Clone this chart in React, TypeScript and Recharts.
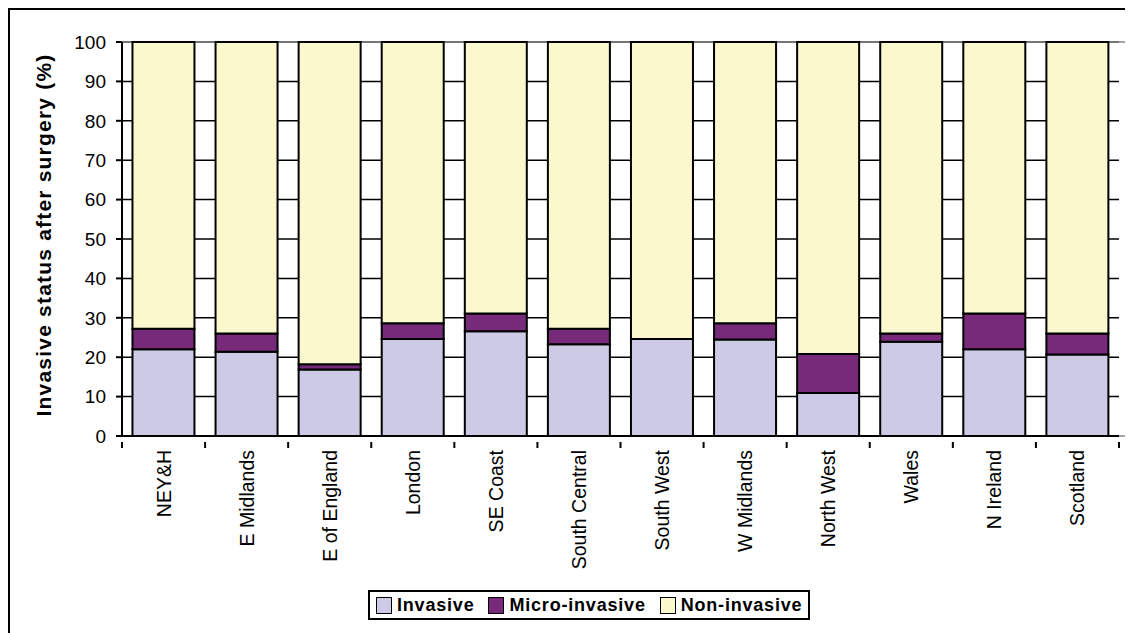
import { Bar, BarChart, CartesianGrid, Legend, ReferenceArea, XAxis, YAxis } from 'recharts';

const regions = [
    'NEY&H', 'E Midlands', 'E of England', 'London', 'SE Coast', 'South Central',
    'South West', 'W Midlands', 'North West', 'Wales', 'N Ireland', 'Scotland'
];

const invasive = [22.0, 21.4, 16.9, 24.6, 26.6, 23.3, 24.6, 24.5, 10.9, 23.9, 22.0, 20.7];
const microInvasive = [5.2, 4.6, 1.3, 4.0, 4.5, 3.9, 0, 4.1, 9.9, 2.1, 9.1, 5.3];
const nonInvasive = [72.8, 74.0, 81.8, 71.4, 68.9, 72.8, 75.4, 71.4, 79.2, 74.0, 68.9, 74.0];

const yTicks = [0, 10, 20, 30, 40, 50, 60, 70, 80, 90, 100];

const series = [
    { key: 'invasive', name: 'Invasive', color: '#CCCAE4' },
    { key: 'micro', name: 'Micro-invasive', color: '#77297A' },
    { key: 'non', name: 'Non-invasive', color: '#FBF8CD' },
];

const data = regions.map((name, i) => ({
    name,
    invasive: invasive[i],
    micro: microInvasive[i],
    non: nonInvasive[i],
}));

const font = '"Liberation Sans", Arial, sans-serif';

// label plus tick marks on the category boundaries (half a band either side)
function RegionTick(props: any) {
    const { x, y, payload, index, visibleTicksCount } = props;
    const half = payload.offset || 0;
    const axisY = y - 2;
    const ty = y + 6;
    return (
        <g>
            <line x1={x - half} y1={axisY} x2={x - half} y2={axisY + 6} stroke="#000" strokeWidth={2} />
            {index === visibleTicksCount - 1 && (
                <line x1={x + half} y1={axisY} x2={x + half} y2={axisY + 6} stroke="#000" strokeWidth={2} />
            )}
            <text
                x={x}
                y={ty}
                transform={`rotate(-90, ${x}, ${ty})`}
                textAnchor="end"
                dominantBaseline="central"
                fontSize={19.5}
                fontFamily={font}
                fill="#000"
            >
                {payload.value}
            </text>
        </g>
    );
}

function LegendBox() {
    return (
        <div style={{
            display: 'inline-flex', alignItems: 'center', gap: 14, boxSizing: 'border-box', height: 30,
            border: '2px solid #000', padding: '0 6px 0 6px', background: '#fff',
            fontFamily: font, fontWeight: 'bold', fontSize: 18,
        }}>
            {series.map(s => (
                <span key={s.key} style={{ display: 'inline-flex', alignItems: 'center', gap: 5 }}>
                    <span style={{ width: 14, height: 15, background: s.color, border: '1.5px solid #000', display: 'inline-block' }} />
                    <span style={{ letterSpacing: 0.8 }}>{s.name}</span>
                </span>
            ))}
        </div>
    );
}

export default function App() {
    return (
        <div style={{ width: 1116, height: 640, border: '3px solid #000', marginLeft: -1, marginTop: -1, background: '#fff' }}>
            <BarChart
                width={1116}
                height={640}
                data={data}
                barCategoryGap="12.6%"
                margin={{ top: 32, right: 7, bottom: 0, left: 0 }}
            >
                <CartesianGrid vertical={false} stroke="#000" strokeWidth={1.5} />
                <XAxis
                    xAxisId="b"
                    type="number"
                    domain={[0, 12]}
                    tick={false}
                    tickLine={false}
                    axisLine={false}
                    height={0}
                />
                <XAxis
                    dataKey="name"
                    interval={0}
                    tick={<RegionTick />}
                    tickLine={false}
                    axisLine={{ stroke: '#000', strokeWidth: 2 }}
                    height={184}
                />
                <YAxis
                    domain={[0, 100]}
                    ticks={yTicks}
                    interval={0}
                    width={112}
                    tick={{ fill: '#000', fontSize: 19, fontFamily: font }}
                    tickLine={{ stroke: '#000', strokeWidth: 2 }}
                    tickSize={6}
                    tickMargin={10}
                    axisLine={{ stroke: '#000', strokeWidth: 2 }}
                    label={{
                        value: 'Invasive status after surgery (%)',
                        angle: -90,
                        position: 'insideLeft',
                        dx: 29,
                        dy: -4,
                        style: { textAnchor: 'middle', fontWeight: 'bold', fontSize: 21, fontFamily: font, fill: '#000', letterSpacing: 1.2 },
                    }}
                />
                <ReferenceArea xAxisId="b" x1={0} x2={12} y1={0} y2={100} fill="none" stroke="#888" strokeWidth={1.5} ifOverflow="visible" />
                {series.map(s => (
                    <Bar
                        key={s.key}
                        dataKey={s.key}
                        name={s.name}
                        stackId="a"
                        fill={s.color}
                        stroke="#000"
                        strokeWidth={2}
                        isAnimationActive={false}
                    />
                ))}
                <Legend
                    content={<LegendBox />}
                    wrapperStyle={{ top: 580, left: 358, width: 'auto' }}
                />
            </BarChart>
        </div>
    );
}
